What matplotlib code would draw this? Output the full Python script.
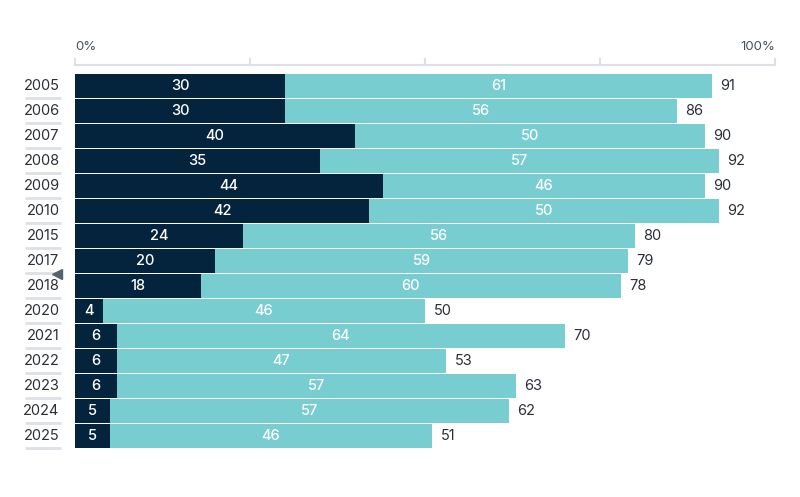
import matplotlib
matplotlib.use("Agg")
import matplotlib.pyplot as plt
import numpy as np

years = ["2005", "2006", "2007", "2008", "2009", "2010", "2015", "2017",
         "2018", "2020", "2021", "2022", "2023", "2024", "2025"]
dark_vals = [30, 30, 40, 35, 44, 42, 24, 20, 18, 4, 6, 6, 6, 5, 5]
teal_vals = [61, 56, 50, 57, 46, 50, 56, 59, 60, 46, 64, 47, 57, 57, 46]
totals = [91, 86, 90, 92, 90, 92, 80, 79, 78, 50, 70, 53, 63, 62, 51]
axis_ticks = [0, 25, 50, 75, 100]
marked_year = "2017"

DARK = "#03243c"
TEAL = "#77cdcf"
GRID = "#dde1e6"
TXT = "#2b2f36"

plt.rcParams["font.family"] = ["Inter", "DejaVu Sans"]

fig = plt.figure(figsize=(8, 4.97), dpi=100)
ax = fig.add_axes([75 / 800, 1 - 461 / 497, 700 / 800, 396 / 497])

y = np.arange(len(years))
ax.barh(y, dark_vals, height=0.96, color=DARK)
ax.barh(y, teal_vals, left=dark_vals, height=0.96, color=TEAL)

for i in range(len(years)):
    d, t, tot = dark_vals[i], teal_vals[i], totals[i]
    ax.text(d / 2, i, str(d), color="white", ha="center", va="center",
            fontsize=10.5, fontweight="medium")
    ax.text(d + t / 2, i, str(t), color="white", ha="center", va="center",
            fontsize=10.5, fontweight="medium")
    ax.text(d + t + 1.2, i, str(tot), color=TXT, ha="left", va="center", fontsize=10.5)
    # year label with underline
    ax.text(-2.2, i, years[i], color=TXT, ha="right", va="center", fontsize=10.5,
            clip_on=False)
    ax.plot([-7.2, -2.0], [i + 0.48, i + 0.48], color=GRID, lw=2, clip_on=False,
            solid_capstyle="butt")

mi = years.index(marked_year)
ax.plot([-2.6], [mi + 0.52], marker="<", color="#59636e", markersize=7,
        clip_on=False)

# top axis
top = -0.84
ax.plot([0, 100], [top, top], color=GRID, lw=1.5, clip_on=False)
for t in axis_ticks:
    ax.plot([t, t], [top, top - 0.26], color=GRID, lw=1.5, clip_on=False)
ax.text(0, -1.56, "0%", ha="left", va="center", fontsize=9.5, color="#4a525c",
        clip_on=False)
ax.text(100, -1.56, "100%", ha="right", va="center", fontsize=9.5, color="#4a525c",
        clip_on=False)

ax.set_xlim(0, 100)
ax.set_ylim(15, top)
ax.axis("off")

fig.savefig("out.png", dpi=100)
